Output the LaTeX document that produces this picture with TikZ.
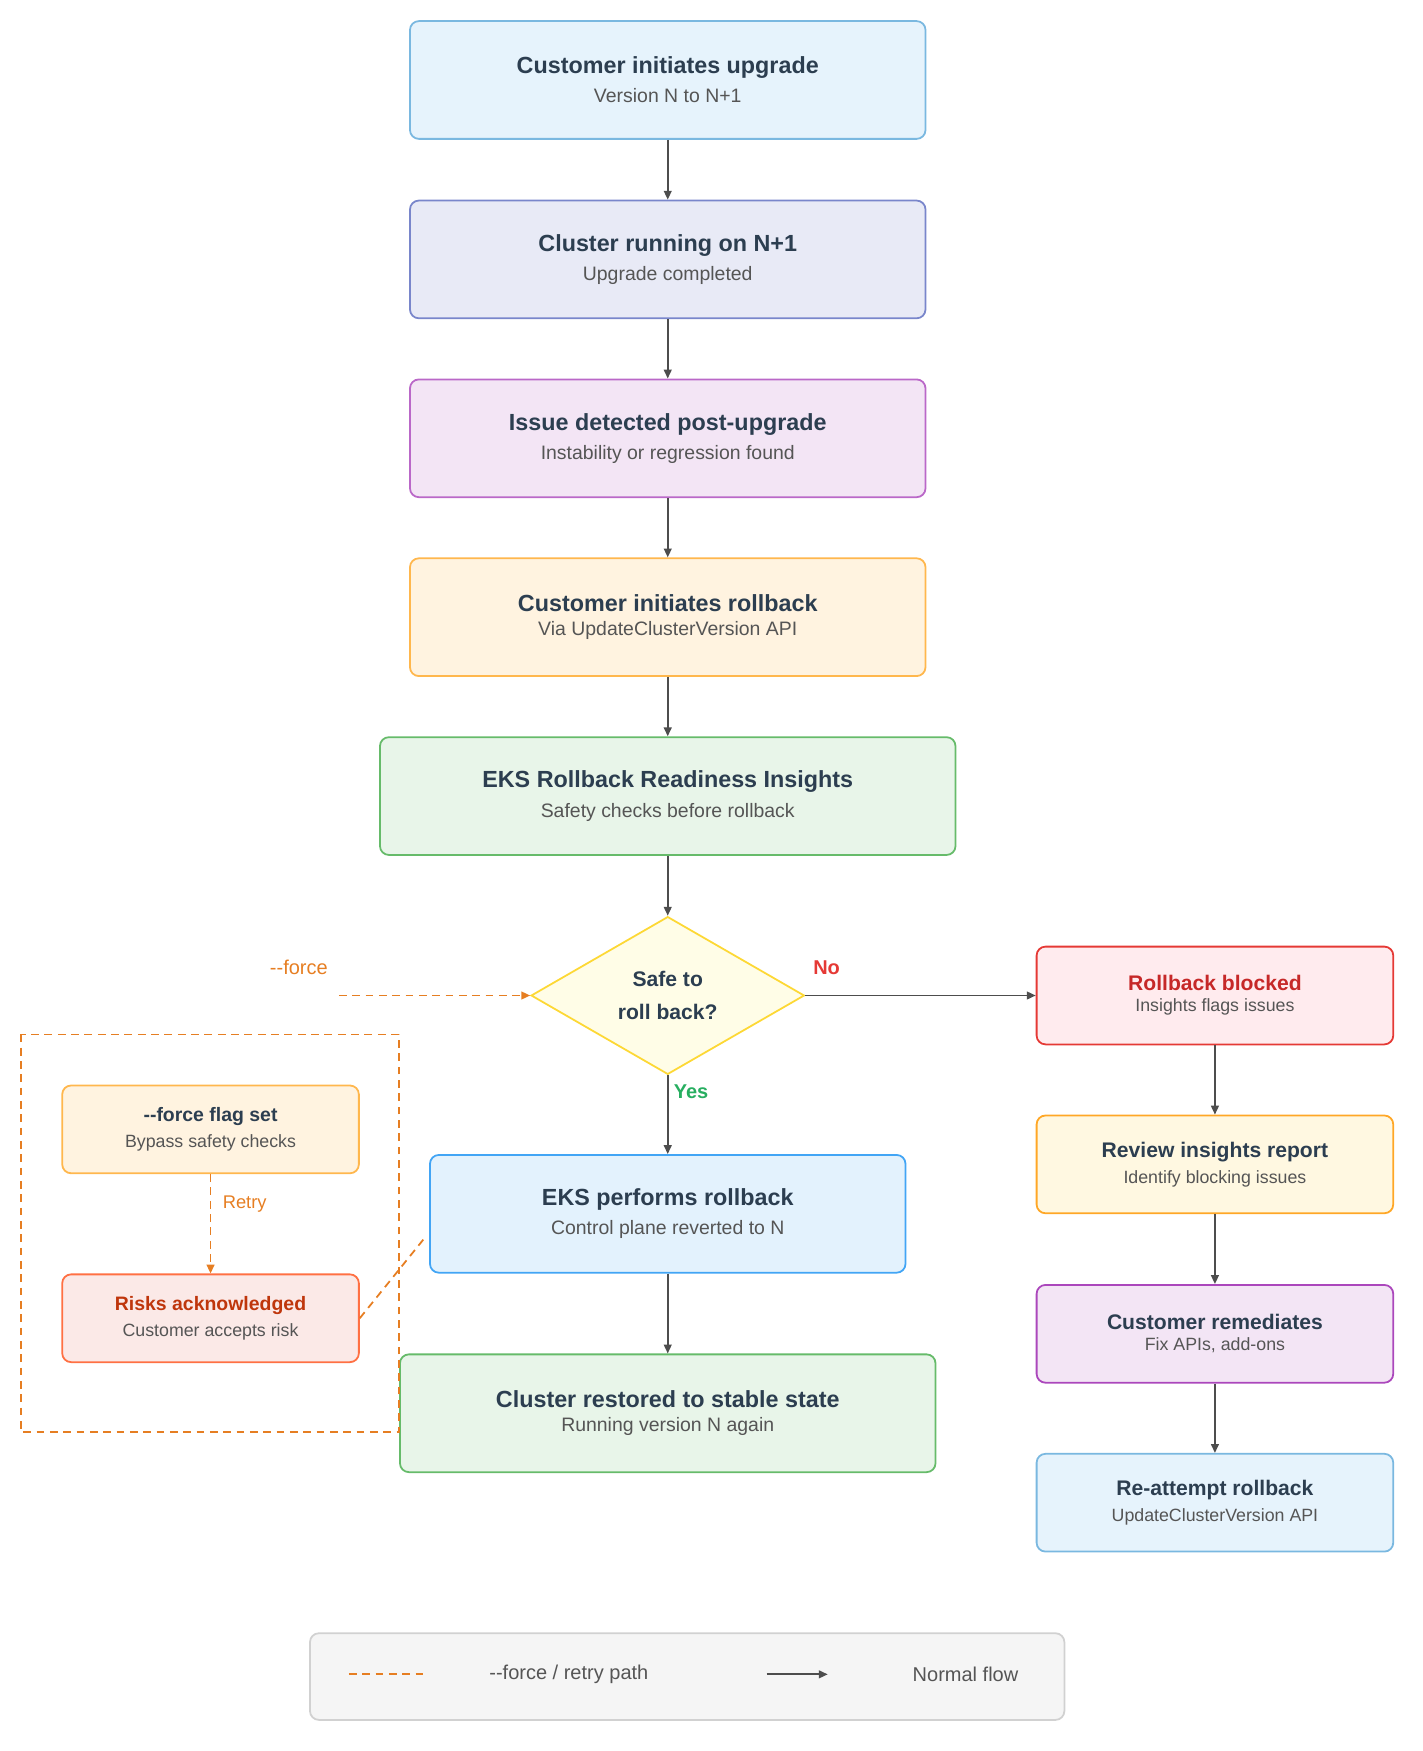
\documentclass[tikz,border=0pt]{standalone}
\usepackage{fontspec}
\setmainfont{Liberation Sans}
\usetikzlibrary{shapes.geometric,arrows.meta}
\definecolor{ink}{HTML}{2C3E50}
\definecolor{sub}{HTML}{555555}
\definecolor{arr}{HTML}{4D4D4D}
\definecolor{org}{HTML}{E67E22}
\definecolor{fa}{HTML}{E6F3FC}\definecolor{ba}{HTML}{7AB8E0}
\definecolor{fb}{HTML}{E8EAF6}\definecolor{bb}{HTML}{7986CB}
\definecolor{fc}{HTML}{F3E5F5}\definecolor{bc}{HTML}{BA68C8}
\definecolor{fd}{HTML}{FFF3E0}\definecolor{bd}{HTML}{FFB74D}
\definecolor{fe}{HTML}{E8F5E9}\definecolor{be}{HTML}{66BB6A}
\definecolor{ff}{HTML}{FFFDE7}\definecolor{bf}{HTML}{FDD835}
\definecolor{fg}{HTML}{FFEBEE}\definecolor{bg}{HTML}{E53935}
\definecolor{fh}{HTML}{FFF8E1}\definecolor{bh}{HTML}{FFA726}
\definecolor{bi}{HTML}{AB47BC}
\definecolor{fk}{HTML}{E3F2FD}\definecolor{bk}{HTML}{42A5F5}
\definecolor{fn}{HTML}{FBE9E7}\definecolor{bn}{HTML}{FF7043}
\definecolor{redA}{HTML}{C62828}\definecolor{redB}{HTML}{BF360C}
\definecolor{grn}{HTML}{27AE60}\definecolor{nored}{HTML}{E53935}
\tikzset{
  box/.style={draw, rounded corners=8pt, line width=1.6pt, inner sep=0pt, align=center},
  flow/.style={draw=arr, line width=1.6pt, -{Triangle[length=8pt,width=7pt]}},
  forcel/.style={draw=org, line width=1.6pt, dash pattern=on 7pt off 5pt},
}
\newcommand{\mybox}[8]{%
  \node[box, fill=#6, draw=#7, minimum width=#4pt, minimum height=#5pt] (#1) at (#2,#3) {#8};}
\newcommand{\ttA}[2]{{\fontsize{21}{25}\selectfont\bfseries\color{ink}#1}\\[8pt]{\fontsize{17.5}{21}\selectfont\color{sub}#2}}
\newcommand{\ttB}[3]{{\fontsize{19}{23}\selectfont\bfseries\color{#3}#1}\\[7pt]{\fontsize{16}{19}\selectfont\color{sub}#2}}
\newcommand{\ttC}[3]{{\fontsize{17.5}{21}\selectfont\bfseries\color{#3}#1}\\[7pt]{\fontsize{16}{19}\selectfont\color{sub}#2}}
\begin{document}
\begin{tikzpicture}[x=1pt,y=-1pt]
\useasboundingbox (0,0) rectangle (1280,1576);

\mybox{a}{601}{72}{464}{106}{fa}{ba}{\ttA{Customer initiates upgrade}{Version N to N+1}}
\mybox{b}{601}{233.5}{464}{106}{fb}{bb}{\ttA{Cluster running on N+1}{Upgrade completed}}
\mybox{c}{601}{394.5}{464}{106}{fc}{bc}{\ttA{Issue detected post-upgrade}{Instability or regression found}}
\mybox{d}{601}{555.5}{464}{106}{fd}{bd}{\ttA{Customer initiates rollback}{Via UpdateClusterVersion API}}
\mybox{e}{601}{716.5}{518}{106}{fe}{be}{\ttA{EKS Rollback Readiness Insights}{Safety checks before rollback}}
\node[diamond, draw=bf, fill=ff, line width=1.6pt, minimum width=246pt, minimum height=142pt, inner sep=0pt, align=center, font=\fontsize{19}{30}\selectfont\bfseries, text=ink] (q) at (601,896) {Safe to\\roll back?};
\mybox{g}{1093.5}{896}{321}{88}{fg}{bg}{\ttB{Rollback blocked}{Insights flags issues}{redA}}
\mybox{h}{1093.5}{1048}{321}{88}{fh}{bh}{\ttB{Review insights report}{Identify blocking issues}{ink}}
\mybox{i}{1093.5}{1200.5}{321}{88}{fc}{bi}{\ttB{Customer remediates}{Fix APIs, add-ons}{ink}}
\mybox{j}{1093.5}{1352.5}{321}{88}{fa}{ba}{\ttB{Re-attempt rollback}{UpdateClusterVersion API}{ink}}
\mybox{k}{601}{1092.5}{428}{106}{fk}{bk}{\ttA{EKS performs rollback}{Control plane reverted to N}}
\mybox{l}{601}{1272}{482}{106}{fe}{be}{\ttA{Cluster restored to stable state}{Running version N again}}
\mybox{m}{189.5}{1016.5}{267}{79}{fd}{bd}{\ttC{-{}-force flag set}{Bypass safety checks}{ink}}
\mybox{n}{189.5}{1186.5}{267}{79}{fn}{bn}{\ttC{Risks acknowledged}{Customer accepts risk}{redB}}

\draw[forcel] (19,931) rectangle (359,1289);

\draw[flow] (a) -- (b);
\draw[flow] (b) -- (c);
\draw[flow] (c) -- (d);
\draw[flow] (d) -- (e);
\draw[flow] (e) -- (q);
\draw[flow] (q.east) -- (g.west);
\draw[flow] (q.south) -- (k.north);
\draw[flow] (k) -- (l);
\draw[flow] (g) -- (h);
\draw[flow] (h) -- (i);
\draw[flow] (i) -- (j);

\node[text=nored, font=\fontsize{18}{20}\selectfont\bfseries] (no) at (744,871) {No};
\node[text=grn, font=\fontsize{18}{20}\selectfont\bfseries] (yes) at (622,983) {Yes};

\node[text=org, font=\fontsize{18}{20}\selectfont] (fl) at (269,871) {-{}-force};
\coordinate (fs) at (305,896);
\draw[forcel, -{Triangle[length=8pt,width=7pt]}] (fs) -- (q.west);
\draw[forcel, -{Triangle[length=8pt,width=7pt]}] (m) -- (n);
\node[text=org, font=\fontsize{16.5}{20}\selectfont, anchor=west] (rt) at (197,1084) {Retry};
\coordinate (kk) at (384,1112);
\draw[forcel] (n.east) -- (kk);

\node[draw=black!18, fill=black!4, line width=1.6pt, rounded corners=8pt, minimum width=679pt, minimum height=78pt] (leg) at (618.5,1509) {};
\coordinate (l1) at (314,1507); \coordinate (l2) at (381,1507);
\draw[forcel] (l1) -- (l2);
\node[text=sub, font=\fontsize{18}{20}\selectfont] (lt1) at (512,1507) {-{}-force / retry path};
\coordinate (l3) at (690,1507); \coordinate (l4) at (745,1507);
\draw[flow] (l3) -- (l4);
\node[text=sub, font=\fontsize{18}{20}\selectfont] (lt2) at (869,1507) {Normal flow};
\end{tikzpicture}
\end{document}
